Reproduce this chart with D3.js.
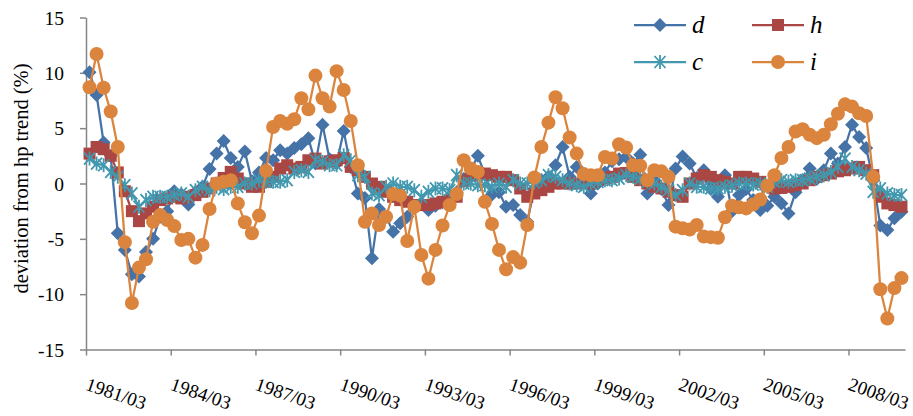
<!DOCTYPE html>
<html>
<head>
<meta charset="utf-8">
<script src="https://cdn.jsdelivr.net/npm/d3@7"></script>
<style>
  html, body { margin: 0; padding: 0; background: #fff; }
  svg { display: block; }
</style>
</head>
<body>
<svg id="chart" width="913" height="416"></svg>
<script>
// Quarterly deviations from HP trend (%), 1981/03 - 2009/12
const startYear = 1981, endYear = 2009;
const quarters = [];
for (let y = startYear; y <= endYear; y++) {
  for (const m of ["03", "06", "09", "12"]) quarters.push(y + "/" + m);
}

const tickLabels = ["1981/03", "1984/03", "1987/03", "1990/03", "1993/03",
                    "1996/03", "1999/03", "2002/03", "2005/03", "2008/03"];
const yTicks = [-15, -10, -5, 0, 5, 10, 15];
const seriesNames = ["d", "h", "c", "i"];

const dValues = [
  10.05, 8.0, 3.7, 2.5, -4.5, -6.0, -8.2, -8.4, -6.2, -5.0,
  -3.0, -2.5, -0.7, -1.0, -1.9, -0.8, -0.3, 1.3, 2.7, 3.85,
  2.3, 1.5, 2.9, 0.2, 1.0, 2.3, 2.1, 3.0, 2.7, 3.2,
  3.55, 4.1, 1.8, 5.3, 2.2, 1.8, 4.75, 1.5, -0.9, -1.3,
  -6.75, -2.3, -3.0, -4.35, -3.6, -3.0, -2.2, -1.8, -2.4, -2.0,
  -1.7, -1.4, -0.8, 0.4, 1.2, 2.5, 0.8, -1.0, -0.8, -2.1,
  -1.95, -2.85, -3.45, -0.5, 0.3, 0.6, 1.65, 3.3, 0.6, 1.5,
  0.2, -0.9, 0.0, 1.0, 2.0, 2.2, 2.4, 1.8, 2.6, -0.9,
  0.3, -0.5, -1.95, 1.35, 2.45, 1.8, 0.5, 1.2, -0.5, -1.2,
  0.75, -2.5, -1.05, -0.5, -1.5, -2.4, -2.0, -1.2, -1.8, -2.7,
  -0.8, 0.3, 1.35, 0.4, 1.2, 2.7, 1.8, 3.3, 5.3, 4.2,
  3.2, 0.3, -3.8, -4.2, -3.15, -2.55
];

const hValues = [
  2.7, 3.3, 3.1, 2.5, 1.0, -0.7, -2.5, -3.4, -2.7, -2.1,
  -1.5, -1.35, -1.2, -1.35, -1.2, -1.05, -0.75, -0.45, 0.0, 0.5,
  1.05, 0.45, 0.0, -0.3, -0.3, 0.15, 0.6, 1.35, 1.65, 1.35,
  1.5, 2.1, 2.25, 1.8, 2.0, 2.1, 2.3, 1.5, 1.2, 0.6,
  0.0, -0.3, -0.75, -1.2, -1.5, -1.65, -1.95, -1.95, -1.95, -1.8,
  -1.65, -1.5, -1.2, 0.2, 0.7, 0.9, 0.9, 0.75, 0.6, 0.6,
  0.3, -0.45, -1.2, -0.9, -0.6, -0.3, 0.0, 0.0, 0.0, 0.0,
  0.15, 0.0, 0.3, 0.45, 0.6, 0.9, 0.95, 0.6, 0.3, 0.0,
  -0.3, -0.45, -0.75, -1.05, -1.2, 0.0, 0.45, 0.75, 0.6, 0.3,
  0.15, 0.0, 0.6, 0.6, 0.45, 0.15, -0.2, -0.45, -0.4, -0.3,
  -0.15, 0.0, 0.3, 0.6, 0.75, 0.9, 1.1, 1.2, 1.35, 1.5,
  1.2, 0.75, -1.2, -1.8, -1.95, -2.1
];

const cValues = [
  2.25, 1.8, 1.65, 1.05, 0.6, -0.15, -0.9, -2.1, -1.5, -1.2,
  -1.2, -1.2, -1.05, -0.9, -1.2, -0.6, -0.3, -0.6, -0.3, -0.5,
  -0.3, -0.3, 0.0, 0.0, 0.3, 0.15, 0.15, 0.15, 0.3, 1.05,
  1.2, 1.05, 2.1, 1.95, 1.65, 1.65, 2.55, 2.1, 0.75, 0.6,
  -0.9, -1.05, -0.3, 0.0, -0.3, -0.3, -0.6, -1.2, -0.75, -0.45,
  -0.45, -0.6, 0.75, 0.0, 0.0, -0.15, -0.15, -0.3, 0.0, -0.3,
  0.3, 0.0, 0.0, 0.1, 0.3, 0.75, 0.6, 0.3, 0.0, -0.15,
  -0.3, 0.0, 0.15, 0.3, 0.3, 0.45, 0.75, 0.6, 0.45, 0.15,
  0.0, -0.3, -0.6, -1.05, -0.6, 0.0, -0.3, -0.3, -0.45, -0.45,
  -0.3, -0.2, 0.0, 0.0, -0.1, 0.0, -0.3, 0.15, 0.3, 0.15,
  0.3, 0.3, 0.45, 0.6, 0.75, 1.05, 1.5, 2.25, 1.5, 1.2,
  0.9, -0.75, -0.45, -0.9, -1.05, -1.05
];

const iValues = [
  8.7, 11.7, 8.65, 6.5, 3.3, -5.3, -10.8, -7.6, -6.85, -3.45,
  -2.85, -3.3, -3.85, -5.1, -5.0, -6.7, -5.55, -2.3, 0.0, 0.15,
  0.3, -1.8, -3.5, -4.5, -2.9, 1.15, 5.1, 5.65, 5.4, 5.8,
  7.7, 6.7, 9.75, 7.7, 6.95, 10.15, 8.45, 5.65, 1.65, -3.45,
  -2.7, -3.75, -3.0, -0.95, -1.1, -5.2, -2.1, -6.45, -8.6, -6.0,
  -3.8, -1.95, -0.95, 2.1, 1.35, 1.05, -1.65, -3.65, -6.0, -7.75,
  -6.65, -7.15, -3.75, 0.55, 3.3, 5.5, 7.8, 6.8, 4.15, 2.7,
  0.85, 0.75, 0.75, 2.4, 2.25, 3.55, 3.25, 1.65, 1.6, 0.3,
  1.2, 1.1, 0.6, -3.9, -4.05, -4.15, -3.75, -4.8, -4.85, -4.9,
  -3.05, -2.0, -2.15, -2.25, -1.9, -1.45, -0.2, 0.75, 2.3, 3.3,
  4.7, 4.9, 4.4, 4.1, 4.4, 5.35, 6.3, 7.15, 6.95, 6.35,
  6.1, 0.6, -9.55, -12.2, -9.45, -8.55
];

const series = [
  { name: "d", values: dValues, color: "#4572A7", marker: "diamond" },
  { name: "h", values: hValues, color: "#AA4643", marker: "square" },
  { name: "c", values: cValues, color: "#4198AF", marker: "star" },
  { name: "i", values: iValues, color: "#DB843D", marker: "circle" }
];

const svg = d3.select("#chart");
const plot = { left: 86, right: 905, top: 17.5, bottom: 349.5 };
const axisColor = "#868686";
const serif = "'Liberation Serif', 'Times New Roman', serif";

const x = d3.scaleLinear().domain([0, quarters.length]).range([plot.left, plot.right]);
const y = d3.scaleLinear().domain([-15, 15]).range([plot.bottom, plot.top]);
const cx = i => x(i + 0.5);

// y axis
const yAxis = svg.append("g")
  .attr("transform", `translate(${plot.left},0)`)
  .call(d3.axisLeft(y).tickValues(yTicks).tickSize(6).tickSizeOuter(0).tickPadding(16)
    .tickFormat(d => String(d)));
yAxis.select(".domain").attr("stroke", axisColor).attr("stroke-width", 1.5);
yAxis.selectAll(".tick line").attr("stroke", axisColor).attr("stroke-width", 1.5);
yAxis.selectAll(".tick text")
  .attr("fill", "#000").attr("font-family", serif).attr("font-size", 19.5)
  .attr("dy", "0.34em");

// x axis: ticks every 12 quarters, between categories
const tickIdx = tickLabels.map(l => quarters.indexOf(l));
const xAxis = svg.append("g")
  .attr("transform", `translate(0,${plot.bottom})`)
  .call(d3.axisBottom(x).tickValues(tickIdx).tickSize(6).tickSizeOuter(0)
    .tickFormat(d => quarters[d]));
xAxis.select(".domain").attr("stroke", axisColor).attr("stroke-width", 1.5);
xAxis.selectAll(".tick line").attr("stroke", axisColor).attr("stroke-width", 1.5);
xAxis.selectAll(".tick text")
  .attr("fill", "#000").attr("font-family", serif).attr("font-size", 19)
  .attr("text-anchor", "start")
  .attr("x", 0).attr("y", 0).attr("dy", 0)
  .attr("transform", "translate(-2,40) rotate(19)");

// y axis title
svg.append("text")
  .attr("transform", `translate(28,${(plot.top + plot.bottom) / 2 - 5}) rotate(-90)`)
  .attr("text-anchor", "middle")
  .attr("font-family", serif).attr("font-size", 20.5)
  .text("deviation from hp trend (%)");

// marker drawing
function drawMarker(g, type, color) {
  if (type === "diamond") {
    g.append("path").attr("d", "M0,-7L7,0L0,7L-7,0Z").attr("fill", color);
  } else if (type === "square") {
    g.append("rect").attr("x", -6).attr("y", -6).attr("width", 12).attr("height", 12).attr("fill", color);
  } else if (type === "circle") {
    g.append("circle").attr("r", 7).attr("fill", color);
  } else if (type === "star") {
    g.append("path").attr("d", "M-5.5,-6L5.5,6M-5.5,6L5.5,-6M0,-7L0,7")
      .attr("stroke", color).attr("stroke-width", 1.8).attr("fill", "none");
  }
}

const line = d3.line().x((d, i) => cx(i)).y(d => y(d));

series.forEach(s => {
  const g = svg.append("g").attr("class", "series-" + s.name);
  g.append("path").datum(s.values)
    .attr("d", line).attr("fill", "none")
    .attr("stroke", s.color).attr("stroke-width", 2.25).attr("stroke-linejoin", "round");
  g.selectAll("g.pt").data(s.values).join("g")
    .attr("class", "pt")
    .attr("transform", (d, i) => `translate(${cx(i)},${y(d)})`)
    .each(function () { drawMarker(d3.select(this), s.marker, s.color); });
});

// legend
const legendPos = [
  { x: 634, y: 25 }, { x: 752, y: 25 },
  { x: 634, y: 62 }, { x: 752, y: 62 }
];
series.forEach((s, k) => {
  const p = legendPos[k];
  const g = svg.append("g").attr("transform", `translate(${p.x},${p.y})`);
  g.append("line").attr("x1", 0).attr("x2", 52).attr("y1", 0).attr("y2", 0)
    .attr("stroke", s.color).attr("stroke-width", 2.25);
  drawMarker(g.append("g").attr("transform", "translate(26,0)"), s.marker, s.color);
  g.append("text").attr("x", 58).attr("y", 8)
    .attr("font-family", serif).attr("font-style", "italic").attr("font-size", 25)
    .text(s.name);
});
</script>
</body>
</html>
